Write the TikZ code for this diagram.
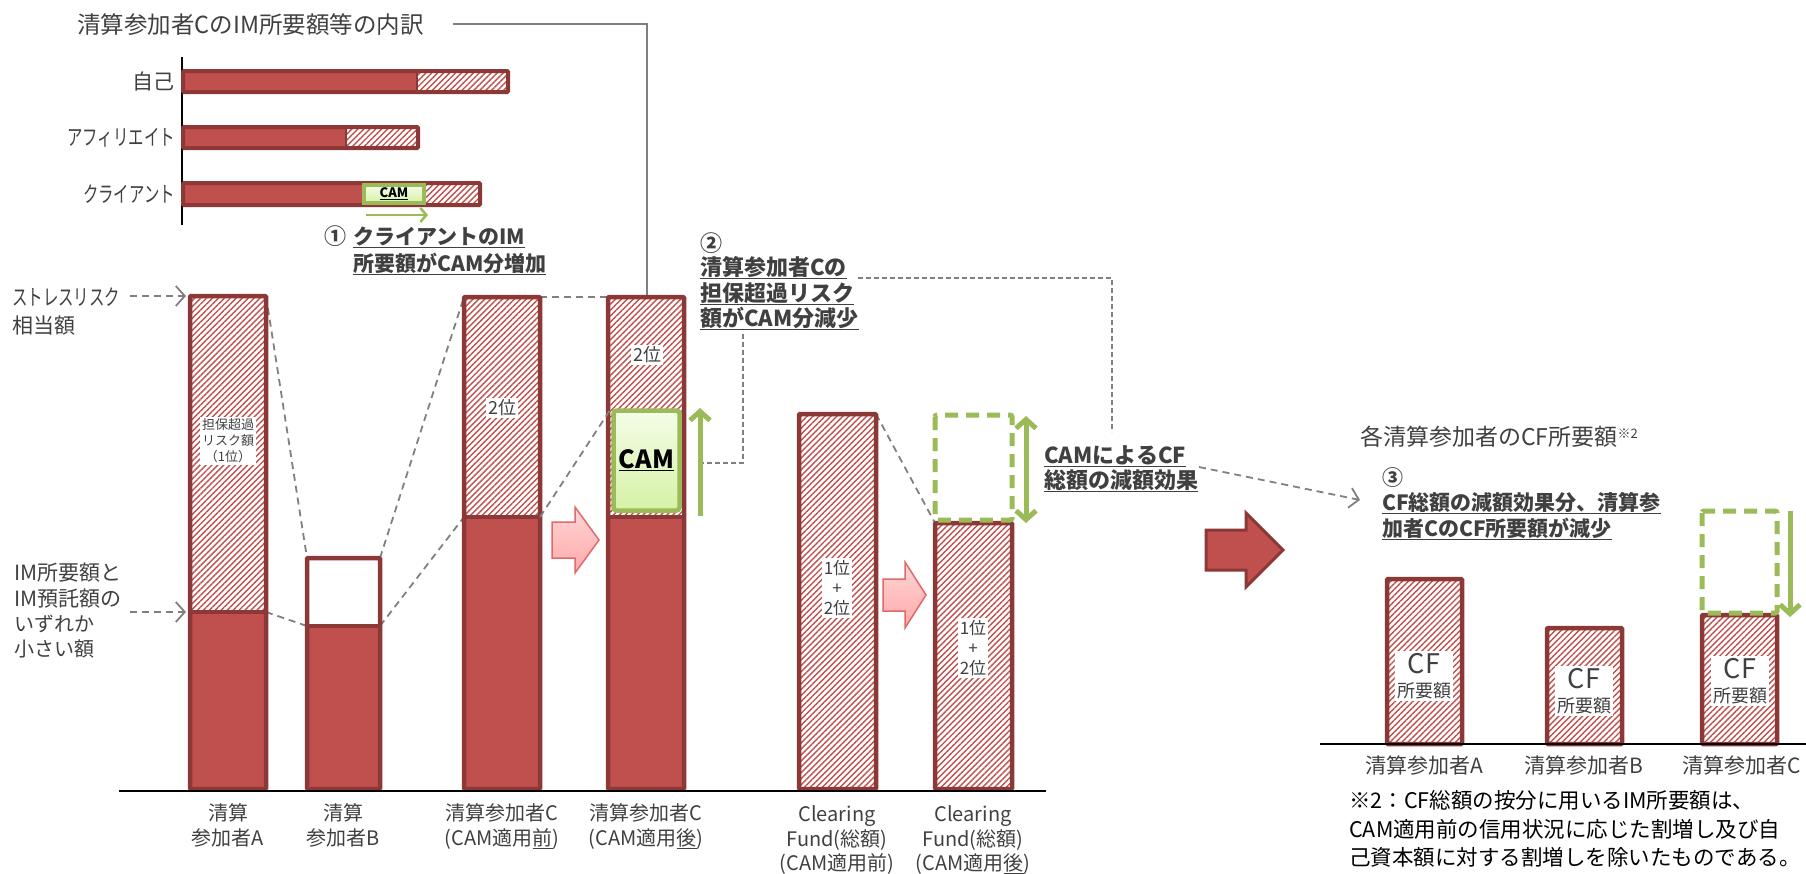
\documentclass[tikz,border=0pt]{standalone}
\usepackage{fontspec}
\setmainfont{Noto Sans CJK JP}
\newfontfamily\condf{Noto Sans CJK JP}[FakeStretch=0.7]
\usetikzlibrary{patterns.meta,arrows.meta}
\definecolor{barred}{HTML}{C0504D}
\definecolor{bardark}{HTML}{8C3836}
\definecolor{grn}{HTML}{9BBB59}
\definecolor{txt}{HTML}{404040}
\definecolor{dgray}{HTML}{808080}
\definecolor{camtop}{HTML}{F4FCE8}
\definecolor{cambot}{HTML}{D6F2A6}
\definecolor{pinktop}{HTML}{FFD6D6}
\definecolor{pinkbot}{HTML}{FFA8A8}
\definecolor{pinkdraw}{HTML}{E06A6A}
\newcommand\fs[2]{\fontsize{#1}{#2}\selectfont}
\newcommand\myul[1]{\underline{#1}}
\begin{document}
\begin{tikzpicture}[x=1pt,y=-1pt,
  bar/.style={draw=bardark,line width=4.5pt,rounded corners=1pt},
  hatch/.style={pattern={Lines[angle=45,distance=4.2pt,line width=1.4pt]},pattern color=barred},
  conn/.style={draw=dgray,line width=1.8pt,dash pattern=on 7pt off 5pt},
  opentip/.style={-{Straight Barb[length=9pt,width=20pt]}},
  garrow/.style={draw=grn,line width=5pt},
  gbox/.style={draw=grn,line width=5pt,dash pattern=on 13pt off 8pt,rounded corners=2pt},
  txtn/.style={text=txt,inner sep=0pt},
  bold/.style={txtn,font=\bfseries\fs{21}{26}},
  boldL/.style={txtn,font=\bfseries\fs{22}{26}},
  inlbl/.style={fill=white,text=txt,inner sep=2pt,align=center},
  pinkarr/.style={draw=pinkdraw,line width=1.5pt,top color=pinktop,bottom color=pinkbot},
  lab/.style={txtn,font=\fs{20}{24}},
]
\useasboundingbox (0,0) rectangle (1806,873);

% ---------- title of inset and its line ----------
\node[txtn,anchor=base west,font=\fs{23.5}{26}] (ttl) at (77,33) {清算参加者CのIM所要額等の内訳};
\coordinate (tl1) at (453,24);
\coordinate (tl2) at (647,24);
\coordinate (Ctop) at (647,297);
\draw[dgray,line width=1.8pt] (tl1) -- (tl2) -- (Ctop);

% ---------- inset horizontal bars ----------
\draw[black,line width=1.5pt] (182,57) -- (182,225);
% self
\fill[barred] (183,71) rectangle (417,92);
\fill[hatch] (417,71) rectangle (508,92);
\draw[bar,line width=4pt] (183,71) rectangle (508,92);
\draw[bardark,line width=2pt] (417,71) -- (417,92);
% affiliate
\fill[barred] (183,127) rectangle (346,148);
\fill[hatch] (346,127) rectangle (418,148);
\draw[bar,line width=4pt] (183,127) rectangle (418,148);
\draw[bardark,line width=2pt] (346,127) -- (346,148);
% client
\fill[barred] (183,183) rectangle (362,205);
\fill[hatch] (426,183) rectangle (480,205);
\draw[bar,line width=4pt] (183,183) rectangle (480,205);
\node[draw=grn,line width=3.5pt,top color=camtop,bottom color=cambot,minimum width=60pt,minimum height=18pt,inner sep=0pt,font=\bfseries\fs{13}{13},text=black] (camS) at (394,194) {\myul{CAM}};
\node[txtn,anchor=base east,font=\fs{21}{24}] (l1) at (175,89) {自己};
\node[txtn,anchor=base east,font=\condf\fs{22}{24}] (l2) at (175,145) {アフィリエイト};
\node[txtn,anchor=base east,font=\condf\fs{22}{24}] (l3) at (175,202) {クライアント};
\coordinate (ga1) at (366,215);
\coordinate (ga2) at (428,215);
\draw[grn,line width=2.5pt,-{Straight Barb[length=6pt,width=14pt]}] (ga1) -- (ga2);
\node[txtn,anchor=base west,font=\bfseries\fs{22}{26}] (c1) at (324,244) {①};
\node[bold,anchor=base west] (c1a) at (353,244) {\myul{クライアントのIM}};
\node[bold,anchor=base west] (c1b) at (353,271) {\myul{所要額がCAM分増加}};

% ---------- left labels ----------
\node[txtn,anchor=base west,font=\condf\fs{22}{24}] (s1) at (12,305) {ストレスリスク};
\node[txtn,anchor=base west,font=\fs{21}{24}] (s2) at (12,333) {相当額};
\node[txtn,anchor=base west,font=\fs{21}{24}] (m1) at (14,580) {IM所要額と};
\node[txtn,anchor=base west,font=\fs{21}{24}] (m2) at (14,606) {IM預託額の};
\node[txtn,anchor=base west,font=\fs{20}{24}] (m3) at (14,631) {いずれか};
\node[txtn,anchor=base west,font=\fs{20}{24}] (m4) at (14,656) {小さい額};
\coordinate (la1) at (130,296); \coordinate (la2) at (186,296);
\coordinate (lb1) at (130,612); \coordinate (lb2) at (186,612);
\draw[conn,opentip] (la1) -- (la2);
\draw[conn,opentip] (lb1) -- (lb2);

% ---------- dashed connectors between bars ----------
\coordinate (Atr) at (266,296); \coordinate (Adr) at (266,612);
\coordinate (Btl) at (307,558); \coordinate (Btr) at (380,558);
\coordinate (Bdl) at (307,626); \coordinate (Bdr) at (380,626);
\coordinate (Ctl) at (464,297); \coordinate (Ctr) at (540,297);
\coordinate (Cdl) at (464,517); \coordinate (Cdr) at (540,517);
\coordinate (Dtl) at (608,297);
\coordinate (Ftr) at (876,414); \coordinate (Gtl) at (935,523);
\draw[conn] (Atr) -- (Btl);
\draw[conn] (Adr) -- (Bdl);
\draw[conn] (Btr) -- (Ctl);
\draw[conn] (Bdr) -- (Cdl);
\draw[conn] (Ctr) -- (Dtl);
\draw[conn] (Ftr) -- (Gtl);

% ---------- main bars ----------
% A
\fill[hatch] (190,296) rectangle (266,612);
\fill[barred] (190,612) rectangle (266,789);
\draw[bar] (190,296) rectangle (266,789);
\draw[bar] (190,612) -- (266,612);
% B
\fill[white] (307,558) rectangle (380,626);
\fill[barred] (307,626) rectangle (380,789);
\draw[bar] (307,558) rectangle (380,789);
\draw[bar] (307,626) -- (380,626);
% C before
\fill[hatch] (464,297) rectangle (540,517);
\fill[barred] (464,517) rectangle (540,789);
\draw[bar] (464,297) rectangle (540,789);
\draw[bar] (464,517) -- (540,517);
% C after
\fill[hatch] (608,297) rectangle (684,517);
\fill[barred] (608,517) rectangle (684,789);
\draw[bar] (608,297) rectangle (684,789);
\draw[bar] (608,517) -- (684,517);
\node[draw=grn,line width=4.5pt,rounded corners=3pt,top color=camtop,bottom color=cambot,minimum width=66pt,minimum height=100pt,inner sep=0pt,font=\bfseries\fs{25}{25},text=black] (camB) at (646.5,460.5) {\myul{CAM}};
\draw[conn] (Cdr) -- (camB.north west);
% Clearing fund before / after
\fill[hatch] (799,414) rectangle (876,789);
\draw[bar] (799,414) rectangle (876,789);
\fill[hatch] (935,523) rectangle (1012,789);
\draw[bar] (935,523) rectangle (1012,789);
\draw[gbox] (935,415) rectangle (1012,520);

% baseline
\draw[black,line width=2pt] (119,791) -- (1046,791);

% labels inside bars
\node[inlbl,font=\fs{13}{16}] (la) at (228,441) {担保超過\\リスク額\\（1位）};
\node[inlbl,font=\fs{18}{20}] (lc) at (502,408) {2位};
\node[inlbl,font=\fs{18}{20}] (ld) at (647,355) {2位};
\node[inlbl,font=\fs{17}{20}] (lf) at (837,588) {1位\\+\\2位};
\node[inlbl,font=\fs{17}{20}] (lg) at (973,648) {1位\\+\\2位};

% green arrows
\coordinate (gu1) at (700,516); \coordinate (gu2) at (700,408);
\draw[garrow,-{Straight Barb[length=9pt,width=20pt]}] (gu1) -- (gu2);
\coordinate (gd1) at (1026,416); \coordinate (gd2) at (1026,523);
\draw[garrow,{Straight Barb[length=9pt,width=20pt]}-{Straight Barb[length=9pt,width=20pt]}] (gd1) -- (gd2);

% pink arrows
\draw[pinkarr] (552,522) -- (575,522) -- (575,507) -- (599,540) -- (575,573) -- (575,558) -- (552,558) -- cycle;
\draw[pinkarr] (883,579) -- (905,579) -- (905,562) -- (926,595) -- (905,628) -- (905,611) -- (883,611) -- cycle;
% big red arrow
\draw[draw=bardark,line width=3pt,fill=barred] (1206,530) -- (1246,530) -- (1246,513) -- (1283,550) -- (1246,587) -- (1246,570) -- (1206,570) -- cycle;

% text 2
\node[txtn,anchor=base west,font=\bfseries\fs{22}{26}] (t2) at (700,251) {②};
\node[boldL,anchor=base west] (t2a) at (700,275) {\myul{清算参加者Cの}};
\node[boldL,anchor=base west] (t2b) at (700,301) {\myul{担保超過リスク}};
\node[boldL,anchor=base west] (t2c) at (700,326) {\myul{額がCAM分減少}};
\coordinate (p1) at (858,278); \coordinate (p2) at (1112,278); \coordinate (p3) at (1112,432);
\draw[conn,dash pattern=on 5pt off 3pt,line width=1.5pt] (p1) -- (p2) -- (p3);
\coordinate (q1) at (743,334); \coordinate (q2) at (743,463); \coordinate (q3) at (703,463);
\draw[conn,dash pattern=on 5pt off 3pt,line width=1.5pt] (q1) -- (q2) -- (q3);

% CAM CF text
\node[boldL,anchor=base west] (tc1) at (1044,463) {\myul{CAMによるCF}};
\node[boldL,anchor=base west] (tc2) at (1044,488) {\myul{総額の減額効果}};
\coordinate (r1) at (1199,467); \coordinate (r2) at (1360,500);
\draw[conn,opentip] (r1) -- (r2);

% bottom labels main
\node[lab,anchor=base] at (228,820) {清算};
\node[lab,anchor=base] at (228,845) {参加者A};
\node[lab,anchor=base] at (343,820) {清算};
\node[lab,anchor=base] at (343,845) {参加者B};
\node[lab,anchor=base] at (502,820) {清算参加者C};
\node[lab,anchor=base] at (502,845) {(CAM適用\myul{前})};
\node[lab,anchor=base] at (646,820) {清算参加者C};
\node[lab,anchor=base] at (646,845) {(CAM適用\myul{後})};
\node[lab,anchor=base] at (837,821) {Clearing};
\node[lab,anchor=base] at (837,846) {Fund(総額)};
\node[lab,anchor=base] at (837,870) {(CAM適用前)};
\node[lab,anchor=base] at (973,821) {Clearing};
\node[lab,anchor=base] at (973,846) {Fund(総額)};
\node[lab,anchor=base] at (973,870) {(CAM適用\myul{後})};

% ---------- right section ----------
\node[txtn,anchor=base west,font=\fs{23}{26}] (rt) at (1360,445) {各清算参加者のCF所要額\raisebox{7pt}{\fs{13}{13}※2}};
\node[txtn,anchor=base west,font=\bfseries\fs{21}{26}] (t3) at (1382,485) {③};
\node[bold,anchor=base west] (t3a) at (1382,510) {\myul{CF総額の減額効果分、清算参}};
\node[bold,anchor=base west] (t3b) at (1382,536) {\myul{加者CのCF所要額が減少}};

\fill[hatch] (1387,579) rectangle (1462,744);
\draw[bar] (1387,579) rectangle (1462,744);
\fill[hatch] (1547,628) rectangle (1622,744);
\draw[bar] (1547,628) rectangle (1622,744);
\fill[hatch] (1702,615) rectangle (1777,744);
\draw[bar] (1702,615) rectangle (1777,744);
\draw[gbox] (1702,511) rectangle (1777,613);
\coordinate (rd1) at (1790,511); \coordinate (rd2) at (1790,617);
\draw[garrow,-{Straight Barb[length=9pt,width=20pt]}] (rd1) -- (rd2);
\draw[black,line width=2pt] (1320,744) -- (1806,744);

\node[inlbl,font=\fs{18}{24}] (cfa) at (1424,676) {{\fs{27}{24}CF}\\所要額};
\node[inlbl,font=\fs{18}{24}] (cfb) at (1584,691) {{\fs{27}{24}CF}\\所要額};
\node[inlbl,font=\fs{18}{24}] (cfc) at (1740,681) {{\fs{27}{24}CF}\\所要額};

\node[txtn,anchor=base,font=\fs{21}{24}] at (1424,773) {清算参加者A};
\node[txtn,anchor=base,font=\fs{21}{24}] at (1584,773) {清算参加者B};
\node[txtn,anchor=base,font=\fs{21}{24}] at (1742,773) {清算参加者C};

\node[anchor=base west,inner sep=0pt,font=\fs{21.5}{29}] (fn1) at (1349,808) {※2：CF総額の按分に用いるIM所要額は、};
\node[anchor=base west,inner sep=0pt,font=\fs{21.5}{29}] (fn2) at (1349,837) {CAM適用前の信用状況に応じた割増し及び自};
\node[anchor=base west,inner sep=0pt,font=\fs{21.5}{29}] (fn3) at (1349,865) {己資本額に対する割増しを除いたものである。};
\end{tikzpicture}
\end{document}
